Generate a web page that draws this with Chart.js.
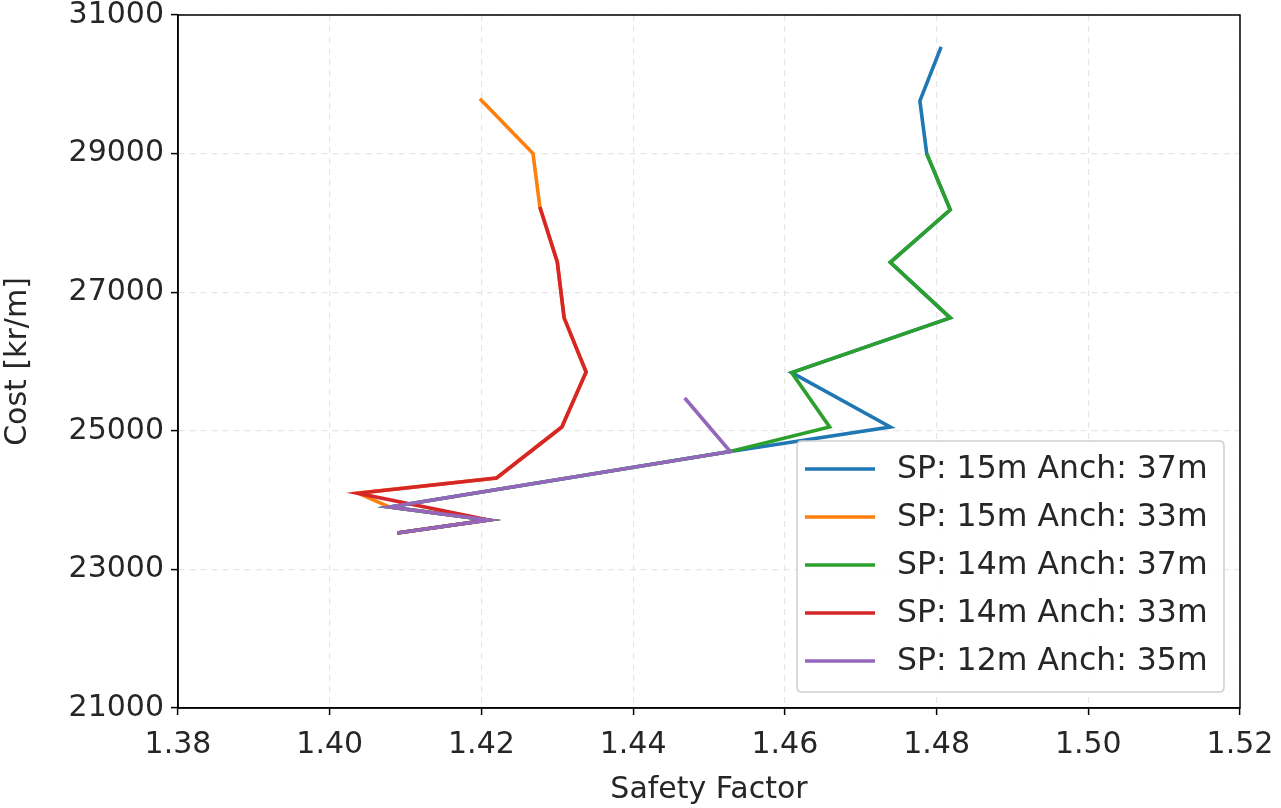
<!DOCTYPE html>
<html>
<head>
<meta charset="utf-8">
<script src="https://cdn.jsdelivr.net/npm/chart.js@4"></script>
<style>
html,body{margin:0;padding:0;background:#fff;}
#wrap{width:1281px;height:808px;}
</style>
</head>
<body>
<div id="wrap"><canvas id="c" width="1281" height="808"></canvas></div>
<script>
// ---- data ----
const seriesLabels = ['SP: 15m Anch: 37m','SP: 15m Anch: 33m','SP: 14m Anch: 37m','SP: 14m Anch: 33m','SP: 12m Anch: 35m'];
const seriesColors = ['#1f77b4','#ff7f0e','#2ca02c','#d62728','#9467bd'];

const blueX = [1.4806,1.4778,1.4787,1.4818,1.4739,1.4818,1.4609,1.4739,1.4528,1.4079,1.4209,1.4089];
const blueY = [30540,29760,29000,28190,27430,26630,25840,25055,24700,23900,23713,23525];

const orangeX = [1.4198,1.4268,1.4277,1.4300,1.4309,1.4338,1.4306,1.4220,1.4037,1.4079,1.4209,1.4089];
const orangeY = [29790,29000,28230,27436,26630,25848,25055,24319,24100,23900,23713,23525];

const greenX = [1.4787,1.4818,1.4739,1.4818,1.4609,1.4659,1.4528,1.4079,1.4209,1.4089];
const greenY = [29000,28190,27430,26630,25840,25055,24700,23900,23713,23525];

const redX = [1.4277,1.4300,1.4309,1.4338,1.4306,1.4220,1.4037,1.4209,1.4089];
const redY = [28230,27436,26630,25848,25055,24319,24100,23713,23525];

const purpleX = [1.4468,1.4528,1.4079,1.4209,1.4089];
const purpleY = [25473,24700,23900,23713,23525];

const xTicks = [1.38,1.40,1.42,1.44,1.46,1.48,1.50,1.52];
const yTicks = [21000,23000,25000,27000,29000,31000];

const xTitle = 'Safety Factor';
const yTitle = 'Cost [kr/m]';

// ---- build ----
const allX = [blueX, orangeX, greenX, redX, purpleX];
const allY = [blueY, orangeY, greenY, redY, purpleY];
const FONT = "'DejaVu Sans', sans-serif";

const datasets = allX.map((xs, i) => ({
  label: seriesLabels[i],
  data: xs.map((x, j) => ({x: x, y: allY[i][j]})),
  borderColor: seriesColors[i],
  backgroundColor: seriesColors[i],
  borderWidth: 3.6,
  pointRadius: 0,
  fill: false,
  tension: 0,
  order: allX.length - i
}));

const framePlugin = {
  id: 'frame',
  afterDatasetsDraw(chart) {
    const a = chart.chartArea, ctx = chart.ctx;
    ctx.save();
    ctx.strokeStyle = '#000';
    ctx.lineWidth = 1.5;
    ctx.strokeRect(a.left, a.top, a.right - a.left, a.bottom - a.top);
    ctx.restore();
  },
  afterDraw(chart) {
    // legend box inside plot (lower right)
    const ctx = chart.ctx;
    const bx = 797, by = 441, bw = 427, bh = 251, r = 5;
    ctx.save();
    ctx.beginPath();
    ctx.moveTo(bx + r, by);
    ctx.lineTo(bx + bw - r, by); ctx.quadraticCurveTo(bx + bw, by, bx + bw, by + r);
    ctx.lineTo(bx + bw, by + bh - r); ctx.quadraticCurveTo(bx + bw, by + bh, bx + bw - r, by + bh);
    ctx.lineTo(bx + r, by + bh); ctx.quadraticCurveTo(bx, by + bh, bx, by + bh - r);
    ctx.lineTo(bx, by + r); ctx.quadraticCurveTo(bx, by, bx + r, by);
    ctx.closePath();
    ctx.fillStyle = 'rgba(255,255,255,0.85)';
    ctx.fill();
    ctx.strokeStyle = '#d0d0d0';
    ctx.lineWidth = 1.5;
    ctx.stroke();
    ctx.font = '31.5px ' + FONT;
    ctx.textBaseline = 'middle';
    ctx.fillStyle = '#262626';
    chart.data.datasets.forEach((ds, i) => {
      const yy = 469 + i * 48;
      ctx.beginPath();
      ctx.strokeStyle = ds.borderColor;
      ctx.lineWidth = 3.6;
      ctx.moveTo(805, yy); ctx.lineTo(875, yy);
      ctx.stroke();
      ctx.fillText(ds.label, 897, yy + 1);
    });
    ctx.restore();
  }
};

new Chart(document.getElementById('c'), {
  type: 'line',
  data: { datasets },
  options: {
    responsive: false,
    animation: false,
    layout: { padding: { top: 15, right: 41, left: 0, bottom: 0 } },
    plugins: { legend: { display: false }, tooltip: { enabled: false } },
    scales: {
      x: {
        type: 'linear',
        min: 1.38, max: 1.52,
        afterBuildTicks: s => { s.ticks = xTicks.map(v => ({value: v})); },
        afterFit: s => { s.height = 100; s.paddingLeft = 0; s.paddingRight = 0; },
        ticks: {
          callback: v => Number(v).toFixed(2),
          font: { family: FONT, size: 30 },
          color: '#262626',
          padding: 12,
          maxRotation: 0
        },
        grid: { color: '#e6e6e6', lineWidth: 1.2, tickLength: 7, tickColor: '#000', tickWidth: 1.5 },
        border: { display: true, color: '#000', width: 1.5, dash: [6, 5] },
        title: { display: true, text: xTitle, font: { family: FONT, size: 30 }, color: '#262626', padding: { top: 0, bottom: 0 } }
      },
      y: {
        type: 'linear',
        min: 21000, max: 31000,
        afterBuildTicks: s => { s.ticks = yTicks.map(v => ({value: v})); },
        afterFit: s => { s.width = 178; s.paddingTop = 0; s.paddingBottom = 0; },
        ticks: {
          callback: v => String(v),
          font: { family: FONT, size: 30 },
          color: '#262626',
          padding: 7
        },
        grid: { color: '#e6e6e6', lineWidth: 1.2, tickLength: 7, tickColor: '#000', tickWidth: 1.5 },
        border: { display: true, color: '#000', width: 1.5, dash: [6, 5] },
        title: { display: true, text: yTitle, font: { family: FONT, size: 30 }, color: '#262626', padding: { top: 0, bottom: 0 } }
      }
    }
  },
  plugins: [framePlugin]
});
</script>
</body>
</html>
